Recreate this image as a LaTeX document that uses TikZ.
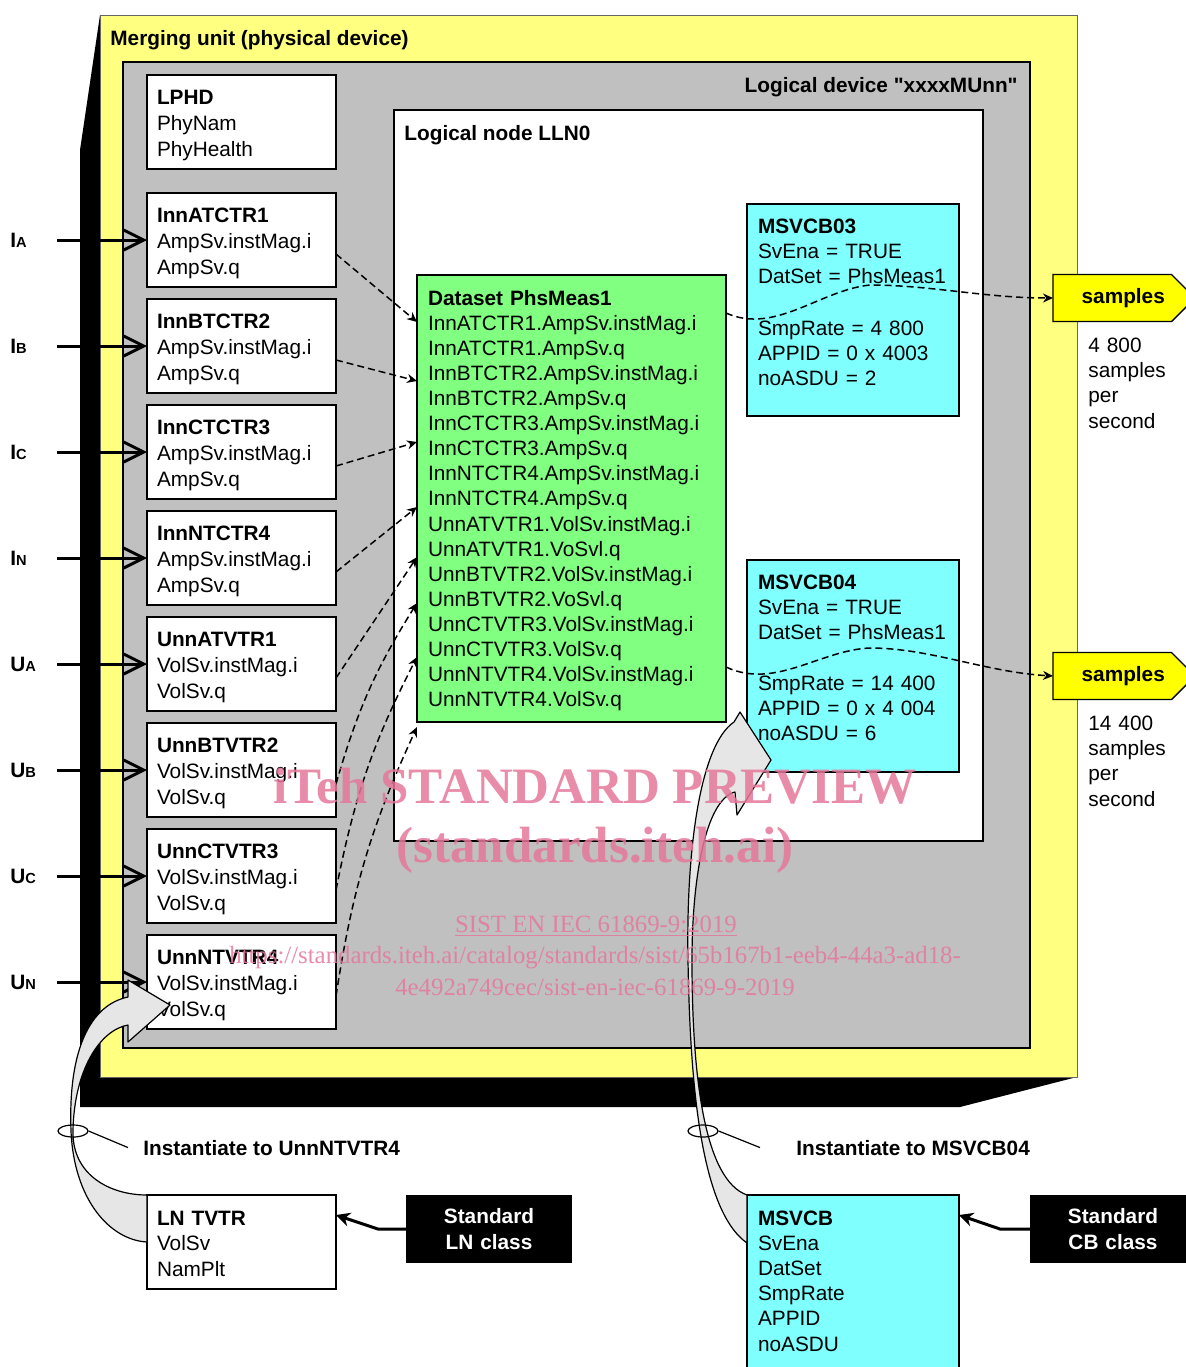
\documentclass[tikz,border=0pt]{standalone}
\usepackage{fontspec}
\setmainfont{Liberation Sans}
\newfontfamily\wmfont{Liberation Serif}
\usetikzlibrary{positioning, arrows.meta, shapes.geometric, shapes.symbols}

\definecolor{muyellow}{RGB}{255,255,128}
\definecolor{ldgray}{RGB}{192,192,192}
\definecolor{dsgreen}{RGB}{128,255,128}
\definecolor{cbcyan}{RGB}{128,255,255}
\definecolor{smpyellow}{RGB}{255,255,0}
\definecolor{instgray}{RGB}{230,230,230}
\definecolor{wmpink}{RGB}{228,120,155}

\tikzset{
  every node/.style={font=\fontsize{10.4}{13}\selectfont},
  lnbox/.style={draw, fill=white, line width=0.7pt, anchor=north west, align=left,
    inner xsep=5pt, inner ysep=0pt, outer sep=0pt, text width=84.5pt,
    text height=14.5pt, text depth=32.5pt},
  cbbox/.style={lnbox, fill=cbcyan, inner xsep=5.5pt, text width=95pt,
    text height=14.5pt, text depth=91.5pt, font=\fontsize{10.4}{12.5}\selectfont},
  stdbox/.style={fill=black, text=white, anchor=north west, align=center,
    inner sep=0pt, outer sep=0pt, text width=83pt, text height=14pt, text depth=20pt,
    font=\fontsize{10.4}{13}\selectfont\bfseries},
  smpflag/.style={draw, fill=smpyellow, line width=0.7pt, signal, signal to=east,
    signal pointer angle=90, minimum width=71pt, minimum height=23.5pt,
    inner sep=0pt, outer sep=0pt, anchor=west, font=\fontsize{10.4}{13}\selectfont\bfseries},
  note/.style={anchor=north west, align=left, inner sep=0pt, text width=45pt, text height=7.5pt,
    font=\fontsize{10.4}{12.6}\selectfont},
  title/.style={anchor=base west, inner sep=0pt, font=\fontsize{10.4}{13}\selectfont\bfseries},
  inarrow/.style={line width=1.5pt, -{Straight Barb[length=10pt, width=10pt]}},
  dataflow/.style={line width=0.75pt, dash pattern=on 3.5pt off 2pt,
    -{Stealth[length=5pt, width=4.5pt]}},
  classarrow/.style={line width=1.5pt, -{Stealth[length=7pt, width=7pt]}},
  instarrow/.style={draw, fill=instgray, line width=0.6pt, line join=round},
  neck/.style={draw, ellipse, minimum width=15pt, minimum height=6pt, inner sep=0pt, line width=0.6pt},
  watermark/.style={text=wmpink, opacity=0.85, inner sep=0pt, anchor=base,
    font=\wmfont\fontsize{25.5}{30}\selectfont\bfseries},
  wmsmall/.style={watermark, font=\wmfont\fontsize{12.4}{15}\selectfont},
}

\begin{document}
\begin{tikzpicture}[x=0.5pt, y=-0.5pt]
\useasboundingbox (0,0) rectangle (1186,1367);

% merging unit (physical device) with its 3D edge
\fill (100,15) -- (80,150) -- (80,1107) -- (960,1107) -- (1077,1077) -- cycle;
\filldraw[fill=muyellow, draw=black!60, line width=0.5pt] (100,15) rectangle (1077,1077);
\node[title] (mu) at (110,45) {Merging unit (physical device)};

% logical device
\filldraw[fill=ldgray, line width=0.7pt] (123,62) rectangle (1030,1048);
\node[title, anchor=base east] (ld) at (1018,92) {Logical device \textquotedbl xxxxMUnn\textquotedbl};

% logical node LLN0
\filldraw[fill=white, line width=0.7pt] (394,110) rectangle (983,841);
\node[title] (lln0) at (404,140) {Logical node LLN0};

\node[lnbox] (lphd) at (147,75) {\textbf{LPHD}\\PhyNam\\PhyHealth};

% logical nodes of the current and voltage transformers
\foreach \lnname/\obj/\sig/\ph [count=\i] in {InnATCTR1/Amp/I/A, InnBTCTR2/Amp/I/B,
    InnCTCTR3/Amp/I/C, InnNTCTR4/Amp/I/N, UnnATVTR1/Vol/U/A, UnnBTVTR2/Vol/U/B,
    UnnCTVTR3/Vol/U/C, UnnNTVTR4/Vol/U/N} {
  \node[lnbox] (ln\i) at (147,{193+106*(\i-1)}) {\textbf{\lnname}\\\obj Sv.instMag.i\\\obj Sv.q};
  \node[title] (in\i) at (10,{247+106*(\i-1)}) {\sig\raisebox{-0.4pt}{\fontsize{7.3}{8}\selectfont\ph}};
  \draw[inarrow] ([xshift=-45pt]ln\i.west) -- (ln\i.west);
}

% dataset
\node[lnbox, fill=dsgreen, inner xsep=5.5pt, text width=143.5pt, text height=15pt,
  text depth=208.5pt, font=\fontsize{10.4}{12.56}\selectfont] (ds) at (417,275) {%
  \textbf{Dataset PhsMeas1}\\
  InnATCTR1.AmpSv.instMag.i\\InnATCTR1.AmpSv.q\\
  InnBTCTR2.AmpSv.instMag.i\\InnBTCTR2.AmpSv.q\\
  InnCTCTR3.AmpSv.instMag.i\\InnCTCTR3.AmpSv.q\\
  InnNTCTR4.AmpSv.instMag.i\\InnNTCTR4.AmpSv.q\\
  UnnATVTR1.VolSv.instMag.i\\UnnATVTR1.VoSvl.q\\
  UnnBTVTR2.VolSv.instMag.i\\UnnBTVTR2.VoSvl.q\\
  UnnCTVTR3.VolSv.instMag.i\\UnnCTVTR3.VolSv.q\\
  UnnNTVTR4.VolSv.instMag.i\\UnnNTVTR4.VolSv.q};

\foreach \i/\e in {1/23.5, 2/53, 3/83.5, 4/116, 5/141}
  \draw[dataflow] ([yshift=-7pt]ln\i.east) -- ([yshift=-\e pt]ds.north west);
\foreach \i/\e in {6/164, 7/191, 8/226}
  \draw[dataflow] ([yshift=-7pt]ln\i.east) to[bend left=8] ([yshift=-\e pt]ds.north west);

% sampled value control blocks
\node[cbbox] (cb3) at (747,204) {\textbf{MSVCB03}\\SvEna = TRUE\\DatSet = PhsMeas1\\[13.5pt]SmpRate = 4 800\\APPID = 0 x 4003\\noASDU = 2};
\node[cbbox, below=72pt of cb3] (cb4) {\textbf{MSVCB04}\\SvEna = TRUE\\DatSet = PhsMeas1\\[13pt]SmpRate = 14 400\\APPID = 0 x 4 004\\noASDU = 6};

\node[smpflag] (smp1) at (1053,298) {\hspace*{11pt}samples};
\node[smpflag] (smp2) at (1053,676) {\hspace*{11pt}samples};
\node[note] (rate1) at (1088,337) {4 800\\samples\\per\\second};
\node[note] (rate2) at (1088,715) {14 400\\samples\\per\\second};

\draw[dataflow] ([yshift=-19pt]ds.north east) .. controls (775,335) and (820,290) .. (870,285)
  .. controls (930,285) and (985,298) .. (smp1.west);
\draw[dataflow] ([yshift=-196pt]ds.north east) .. controls (775,690) and (820,650) .. (870,648)
  .. controls (930,648) and (985,672) .. (smp2.west);

% standard classes
\node[lnbox, text height=15pt, text depth=32pt, font=\fontsize{10.4}{12.75}\selectfont] (tvtr) at (147,1195) {\textbf{LN TVTR}\\VolSv\\NamPlt};
\node[stdbox] (stdln) at (406,1195) {Standard\\LN class};
\node[cbbox, text height=15pt, text depth=81pt, font=\fontsize{10.4}{12.6}\selectfont] (msvcb) at (747,1195) {\textbf{MSVCB}\\SvEna\\DatSet\\SmpRate\\APPID\\noASDU};
\node[stdbox] (stdcb) at (1030,1195) {Standard\\CB class};

\draw[classarrow] (stdln.west) -- ++(-14pt,0) -- ([yshift=-10pt]tvtr.north east);
\draw[classarrow] (stdcb.west) -- ++(-15pt,0) -- ([yshift=-10pt]msvcb.north east);

% instantiation
\draw[instarrow] (tvtr.north west) .. controls (110,1195) and (72,1175) .. (73,1131)
  .. controls (74,1070) and (100,1030) .. (128,1025) -- (128,1042) -- (170,1005)
  -- (128,980) -- (128,997) .. controls (90,1005) and (68,1050) .. (71,1131)
  .. controls (74,1200) and (110,1240) .. ([yshift=-23.5pt]tvtr.north west) -- cycle;
\draw[instarrow] (msvcb.north west) .. controls (705,1180) and (692,1080) .. (692,960)
  .. controls (692,880) and (705,800) .. (735,792) -- (737,815) -- (771,760)
  -- (740,712) -- (734,722) .. controls (700,745) and (686,850) .. (688,960)
  .. controls (690,1080) and (700,1210) .. ([yshift=-24pt]msvcb.north west) -- cycle;

\node[neck] (neck1) at (73,1131) {};
\node[title] (inst1) at (143,1155) {Instantiate to UnnNTVTR4};
\draw[line width=0.6pt] (neck1.east) -- ([xshift=-7.5pt]inst1.west);
\node[neck] (neck2) at (703,1131) {};
\node[title] (inst2) at (796,1155) {Instantiate to MSVCB04};
\draw[line width=0.6pt] (neck2.east) -- ([xshift=-18pt]inst2.west);

% watermark
\node[watermark] (wm1) at (595,803) {iTeh STANDARD PREVIEW};
\node[watermark] (wm2) at (595,862) {(standards.iteh.ai)};
\node[wmsmall] (wm3) at (596,932) {\underline{SIST EN IEC 61869-9:2019}};
\node[wmsmall] (wm4) at (595,963) {https://standards.iteh.ai/catalog/standards/sist/65b167b1-eeb4-44a3-ad18-};
\node[wmsmall] (wm5) at (595,995) {4e492a749cec/sist-en-iec-61869-9-2019};
\end{tikzpicture}
\end{document}
